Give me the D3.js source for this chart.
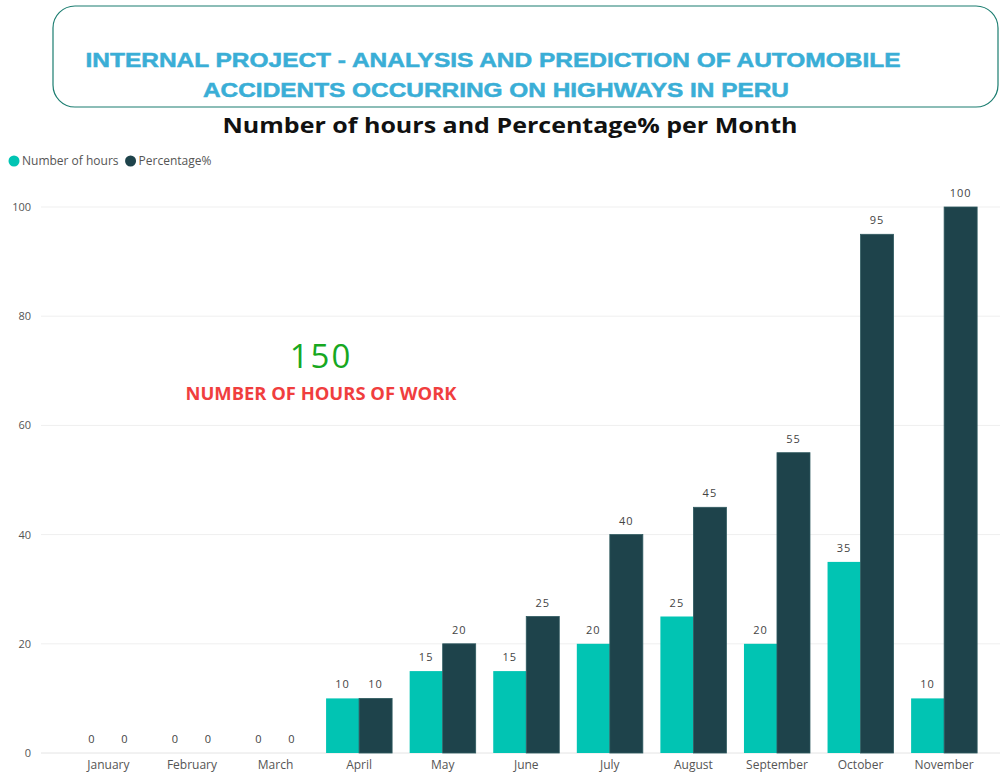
<!DOCTYPE html>
<html>
<head>
<meta charset="utf-8">
<script src="https://cdn.jsdelivr.net/npm/d3@7"></script>
<style>
  body { margin: 0; background: #fff; }
  svg { display: block; }
</style>
</head>
<body>
<div id="viz"></div>
<script>
// chart data
const months = ["January", "February", "March", "April", "May", "June", "July", "August", "September", "October", "November"];
const hours = [0, 0, 0, 10, 15, 15, 20, 25, 20, 35, 10];
const percentage = [0, 0, 0, 10, 20, 25, 40, 45, 55, 95, 100];
const yTicks = [0, 20, 40, 60, 80, 100];
const seriesNames = ["Number of hours", "Percentage%"];
const colors = ["#01c4b3", "#1e434b"];

const W = 1002, H = 774;
const svg = d3.select("#viz").append("svg")
    .attr("width", W)
    .attr("height", H);

// header box
svg.append("rect")
    .attr("x", 53).attr("y", 6)
    .attr("width", 945).attr("height", 101)
    .attr("rx", 22)
    .attr("fill", "#fff")
    .attr("stroke", "#1b7d70")
    .attr("stroke-width", 1.2);

svg.append("text")
    .attr("x", 493).attr("y", 67)
    .attr("text-anchor", "middle")
    .attr("textLength", 815).attr("lengthAdjust", "spacingAndGlyphs")
    .style("font-family", "Liberation Sans, Arial, sans-serif")
    .style("font-weight", "bold").style("font-size", "20px")
    .attr("fill", "#3aaed6").attr("stroke", "#3aaed6").attr("stroke-width", 0.5)
    .text("INTERNAL PROJECT - ANALYSIS AND PREDICTION OF AUTOMOBILE");

svg.append("text")
    .attr("x", 496).attr("y", 97)
    .attr("text-anchor", "middle")
    .attr("textLength", 586).attr("lengthAdjust", "spacingAndGlyphs")
    .style("font-family", "Liberation Sans, Arial, sans-serif")
    .style("font-weight", "bold").style("font-size", "20px")
    .attr("fill", "#3aaed6").attr("stroke", "#3aaed6").attr("stroke-width", 0.5)
    .text("ACCIDENTS OCCURRING ON HIGHWAYS IN PERU");

// chart title
svg.append("text")
    .attr("x", 510).attr("y", 133)
    .attr("text-anchor", "middle")
    .attr("textLength", 575).attr("lengthAdjust", "spacingAndGlyphs")
    .style("font-family", "Open Sans, sans-serif")
    .style("font-weight", "bold").style("font-size", "22px")
    .attr("fill", "#111")
    .text("Number of hours and Percentage% per Month");

// legend
const legend = svg.append("g").attr("transform", "translate(14,161)");
let lx = 0;
seriesNames.forEach((name, i) => {
    legend.append("circle").attr("cx", lx).attr("cy", 0).attr("r", 5.5).attr("fill", colors[i]);
    const t = legend.append("text")
        .attr("x", lx + 8).attr("y", 4)
        .style("font-family", "Open Sans, sans-serif").style("font-size", "12px")
        .attr("fill", "#555")
        .text(name);
    lx += 8 + t.node().getComputedTextLength() + 12;
});

// scales
const x0 = d3.scaleBand()
    .domain(months)
    .range([67, 985.5])
    .paddingInner(0.21)
    .paddingOuter(0.1);

const x1 = d3.scaleBand()
    .domain([0, 1])
    .range([0, x0.bandwidth()]);

const y = d3.scaleLinear()
    .domain([0, 100])
    .range([753, 207]);

// gridlines
svg.append("g")
    .selectAll("line")
    .data(yTicks)
    .enter()
    .append("line")
    .attr("x1", 41).attr("x2", 1000)
    .attr("y1", d => y(d)).attr("y2", d => y(d))
    .attr("stroke", d => d === 0 ? "#e4e4e4" : "#efefef")
    .attr("stroke-width", 1);

// y axis labels
const yAxis = svg.append("g")
    .attr("transform", "translate(31,0)")
    .call(d3.axisLeft(y).tickValues(yTicks).tickSize(0).tickPadding(0));
yAxis.select(".domain").remove();
yAxis.selectAll("text")
    .style("font-family", "Open Sans, sans-serif").style("font-size", "11px")
    .attr("fill", "#555");

// x axis labels
const xAxis = svg.append("g")
    .attr("transform", "translate(0,753)")
    .call(d3.axisBottom(x0).tickSize(0).tickPadding(7));
xAxis.select(".domain").remove();
xAxis.selectAll("text")
    .style("font-family", "Open Sans, sans-serif").style("font-size", "12px")
    .attr("fill", "#555");

// bars
const rows = months.map((m, i) => ({ month: m, vals: [hours[i], percentage[i]] }));

const groups = svg.selectAll("g.month")
    .data(rows)
    .enter()
    .append("g")
    .attr("class", "month")
    .attr("transform", d => `translate(${x0(d.month)},0)`);

groups.selectAll("rect")
    .data(d => d.vals)
    .enter()
    .append("rect")
    .attr("x", (d, i) => x1(i))
    .attr("y", d => y(d))
    .attr("width", x1.bandwidth())
    .attr("height", d => y(0) - y(d))
    .attr("fill", (d, i) => colors[i])
    .attr("stroke", (d, i) => i === 1 ? "#2f5a60" : "none")
    .attr("stroke-width", 0.8);

groups.selectAll("text.label")
    .data(d => d.vals)
    .enter()
    .append("text")
    .attr("class", "label")
    .attr("x", (d, i) => x1(i) + x1.bandwidth() / 2)
    .attr("y", d => y(d) - 10)
    .attr("text-anchor", "middle")
    .style("font-family", "Open Sans, sans-serif").style("font-size", "11px")
    .style("letter-spacing", "1px")
    .attr("fill", "#444")
    .text(d => d);

// card: total hours
svg.append("text")
    .attr("x", 321).attr("y", 368)
    .attr("text-anchor", "middle")
    .style("font-family", "Open Sans, sans-serif").style("font-size", "33px")
    .style("letter-spacing", "2px")
    .attr("fill", "#17a81f")
    .text(d3.sum(hours));

svg.append("text")
    .attr("x", 321).attr("y", 400)
    .attr("text-anchor", "middle")
    .attr("textLength", 271).attr("lengthAdjust", "spacingAndGlyphs")
    .style("font-family", "Open Sans, sans-serif").style("font-size", "17px")
    .style("font-weight", "bold")
    .attr("fill", "#f03e3e")
    .text("NUMBER OF HOURS OF WORK");
</script>
</body>
</html>
